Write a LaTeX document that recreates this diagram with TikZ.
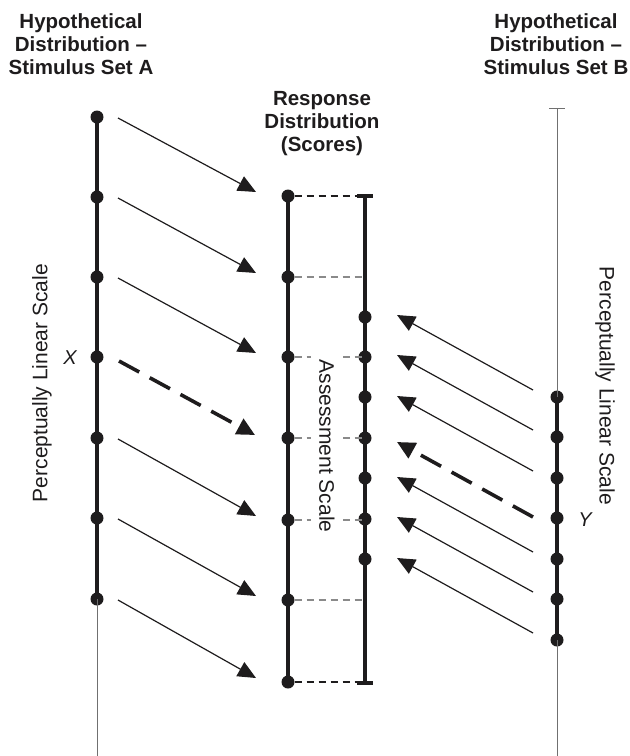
\documentclass[tikz,border=0pt]{standalone}
\usepackage{fontspec}
\setmainfont{Liberation Sans}
\usetikzlibrary{arrows.meta,calc}
\definecolor{ink}{HTML}{1E1C1D}
\definecolor{thingray}{HTML}{707070}
\definecolor{guidegray}{HTML}{8A8A8A}
\begin{document}
\begin{tikzpicture}[x=1pt,y=-1pt,
  dot/.style={circle,fill=ink,inner sep=0pt,minimum size=13pt},
  scaleline/.style={line width=3.5pt,draw=ink},
  thinline/.style={line width=1pt,draw=thingray},
  maparrow/.style={draw=ink,line width=1.2pt,-{Triangle[length=18pt,width=16pt]}},
  keyarrow/.style={draw=ink,line width=3.6pt,dash pattern=on 23pt off 12pt,-{Triangle[length=18pt,width=17pt]}},
  guide/.style={draw=guidegray,line width=1.3pt,dash pattern=on 7pt off 5pt},
  titlebox/.style={font=\fontsize{20.5}{23}\selectfont\bfseries,text=ink,align=center,inner sep=0pt},
  axislabel/.style={font=\fontsize{21}{24}\selectfont,text=ink,inner sep=0pt},
  varlabel/.style={font=\fontsize{20}{23}\selectfont\itshape,text=ink,inner sep=0pt}]
\useasboundingbox (0,0) rectangle (630,756);

% titles
\node[titlebox] (tA) at (81,44) {Hypothetical\\Distribution –\\Stimulus Set A};
\node[titlebox] (tR) at (322,124) {Response\\Distribution\\(Scores)};
\node[titlebox] (tB) at (556,44) {Hypothetical\\Distribution –\\Stimulus Set B};

% dots: stimulus set A
\foreach \i/\y in {1/117,2/197,3/277,4/357,5/438,6/518,7/599}
  \node[dot] (a\i) at (97,\y) {};
% response distribution
\foreach \i/\y in {1/196,2/277,3/357,4/438,5/520,6/600,7/682}
  \node[dot] (m\i) at (288,\y) {};
% assessment scale
\foreach \i/\y in {1/317,2/357,3/397,4/438,5/478,6/519,7/559}
  \node[dot] (s\i) at (365,\y) {};
% stimulus set B
\foreach \i/\y in {1/397,2/437,3/478,4/518,5/559,6/599,7/640}
  \node[dot] (b\i) at (557,\y) {};

\coordinate (aend) at (97,756);
\coordinate (stop) at (365,196);
\coordinate (sbot) at (365,683);
\coordinate (btop) at (557,108);
\coordinate (bend) at (557,756);

% scale lines
\draw[scaleline] (a1.center) -- (a7.center);
\draw[thinline] (a7.center) -- (aend);
\draw[scaleline] (m1.center) -- (m7.center);
\draw[scaleline] (stop) -- (sbot);
\draw[line width=3.5pt,draw=ink] ($(stop)+(-8,0)$) -- ($(stop)+(8,0)$);
\draw[line width=3.5pt,draw=ink] ($(sbot)+(-8,0)$) -- ($(sbot)+(8,0)$);
\draw[thinline] (btop) -- (b1.center);
\draw[thinline] ($(btop)+(-8,0)$) -- ($(btop)+(8,0)$);
\draw[scaleline] (b1.center) -- (b7.center);
\draw[thinline] (b7.center) -- (bend);

% guide lines
\foreach \i in {1,...,7} \coordinate (g\i) at (stop |- m\i);
\draw[guide,draw=ink] (m1) -- (g1);
\foreach \i in {2,...,6} \draw[guide] (m\i) -- (g\i);
\draw[guide,draw=ink] (m7) -- (g7);

% arrows from set A
\foreach \i in {1,2,3,5,6,7} {
  \coordinate (lt\i) at ($(a\i)+(21,1)$);
  \coordinate (lh\i) at ($(m\i)+(-32,-4)$);
  \draw[maparrow] (lt\i) -- (lh\i);
}
\coordinate (lt4) at ($(a4)+(22,4)$);
\coordinate (lh4) at ($(m4)+(-33,-3)$);
\draw[keyarrow] (lt4) -- (lh4);

% arrows from set B
\foreach \i in {1,2,3,5,6,7} {
  \coordinate (rt\i) at ($(b\i)+(-24,-7)$);
  \coordinate (rh\i) at ($(rt\i)+(-136,-75)$);
  \draw[maparrow] (rt\i) -- (rh\i);
}
\coordinate (rt4) at ($(b4)+(-24,-1)$);
\coordinate (rh4) at ($(s4)+(32,4)$);
\draw[keyarrow] (rt4) -- (rh4);

% labels
\node[axislabel,rotate=90] (pA) at (42,383) {Perceptually Linear Scale};
\node[axislabel,rotate=-90] (pB) at (605,386) {Perceptually Linear Scale};
\node[axislabel,rotate=-90,fill=white,inner xsep=4pt,inner ysep=8pt] (as) at (327,446) {Assessment Scale};
\node[varlabel] (xl) at (70,358) {X};
\node[varlabel] (yl) at (585,520) {Y};
\end{tikzpicture}
\end{document}
